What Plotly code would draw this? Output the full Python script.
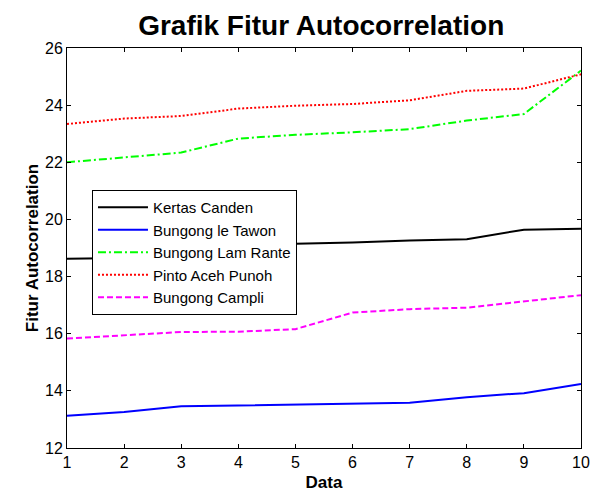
import plotly.graph_objects as go

data_x = [1, 2, 3, 4, 5, 6, 7, 8, 9, 10]
kertas_canden = [18.62, 18.65, 18.85, 19.08, 19.15, 19.19, 19.26, 19.31, 19.64, 19.67]
bungong_le_tawon = [13.13, 13.26, 13.46, 13.49, 13.54, 13.57, 13.58, 13.78, 13.92, 14.24]
bungong_lam_rante = [22.0, 22.18, 22.34, 22.83, 22.96, 23.05, 23.16, 23.46, 23.69, 25.21]
pinto_aceh_punoh = [23.34, 23.53, 23.62, 23.88, 23.98, 24.04, 24.17, 24.50, 24.58, 25.08]
bungong_campli = [15.83, 15.95, 16.06, 16.07, 16.16, 16.74, 16.86, 16.91, 17.13, 17.35]
y_ticks = [12, 14, 16, 18, 20, 22, 24, 26]

series = [
    ("Kertas Canden", kertas_canden, "#000000", "solid"),
    ("Bungong le Tawon", bungong_le_tawon, "#0000ff", "solid"),
    ("Bungong Lam Rante", bungong_lam_rante, "#00ff00", "8px,3px,2px,3px"),
    ("Pinto Aceh Punoh", pinto_aceh_punoh, "#ff0000", "2px,2px"),
    ("Bungong Campli", bungong_campli, "#ff00ff", "6px,3px"),
]

fig = go.Figure()
for name, vals, color, dash in series:
    fig.add_trace(go.Scatter(x=data_x, y=vals, mode="lines", name=name,
                             line=dict(color=color, width=2, dash=dash)))

font_family = "Liberation Sans, Arial, sans-serif"
fig.update_layout(
    width=600, height=492,
    margin=dict(l=59, r=27, t=40, b=52),
    paper_bgcolor="white", plot_bgcolor="white",
    font=dict(family=font_family, size=16, color="black"),
    title=dict(text="<b>Grafik Fitur Autocorrelation</b>", x=0.522, xanchor="center",
               y=0.9655, yanchor="middle", font=dict(size=28, family=font_family, color="black")),
    xaxis=dict(range=[1, 10], tickvals=data_x, ticks="inside", ticklen=4, tickcolor="black",
               showline=True, linecolor="black", linewidth=1, mirror="allticks",
               showgrid=False, zeroline=False, automargin=False,
               tickfont=dict(size=16),
               title=dict(text="<b>Data</b>", font=dict(size=17), standoff=5)),
    yaxis=dict(range=[12, 26], tickvals=y_ticks, ticks="inside", ticklen=4, tickcolor="black",
               showline=True, linecolor="black", linewidth=1, mirror="allticks",
               showgrid=False, zeroline=False, automargin=False,
               tickfont=dict(size=16),
               title=dict(text="<b>Fitur Autocorrelation</b>", font=dict(size=17), standoff=2)),
    legend=dict(x=0.0486, y=0.645, xanchor="left", yanchor="top",
                bgcolor="white", bordercolor="black", borderwidth=1,
                font=dict(size=15, family=font_family), tracegroupgap=0,
                itemwidth=50),
    showlegend=True,
)

fig.write_html("out.html")
